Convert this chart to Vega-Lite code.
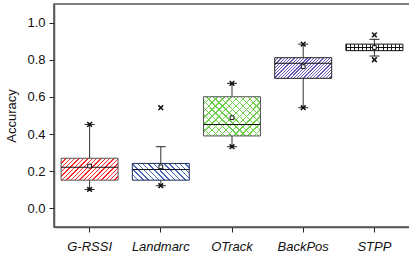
{
  "$schema": "https://vega.github.io/schema/vega-lite/v6.json",
  "width": 356,
  "height": 223,
  "autosize": {"type": "none"},
  "padding": {"left": 54, "top": 4, "right": 0, "bottom": 34},
  "config": {
    "font": "Liberation Sans",
    "view": {"stroke": "#555", "strokeWidth": 1.5},
    "axis": {"grid": false, "domainColor": "#555", "domainWidth": 1.5, "tickColor": "#222", "labelColor": "#111", "labelFont": "Liberation Sans", "titleFont": "Liberation Sans"}
  },
  "datasets": {
    "box": [
      {"method": "G-RSSI", "q1": 0.152, "median": 0.221, "q3": 0.27, "mean": 0.228, "lo": 0.102, "hi": 0.452},
      {"method": "Landmarc", "q1": 0.152, "median": 0.21, "q3": 0.242, "mean": 0.224, "lo": 0.122, "hi": 0.332},
      {"method": "OTrack", "q1": 0.39, "median": 0.452, "q3": 0.601, "mean": 0.488, "lo": 0.332, "hi": 0.673},
      {"method": "BackPos", "q1": 0.7, "median": 0.781, "q3": 0.811, "mean": 0.763, "lo": 0.542, "hi": 0.884},
      {"method": "STPP", "q1": 0.849, "median": 0.866, "q3": 0.884, "mean": 0.866, "lo": 0.82, "hi": 0.91}
    ],
    "ext": [
      {"method": "G-RSSI", "value": 0.102}, {"method": "G-RSSI", "value": 0.452},
      {"method": "Landmarc", "value": 0.122}, {"method": "Landmarc", "value": 0.542},
      {"method": "OTrack", "value": 0.332}, {"method": "OTrack", "value": 0.673},
      {"method": "BackPos", "value": 0.542}, {"method": "BackPos", "value": 0.884},
      {"method": "STPP", "value": 0.8}, {"method": "STPP", "value": 0.934}
    ]
  },
  "encoding": {
    "x": {
      "field": "method", "type": "nominal",
      "sort": ["G-RSSI", "Landmarc", "OTrack", "BackPos", "STPP"],
      "scale": {"paddingInner": 0, "paddingOuter": 0},
      "axis": {"title": null, "labelAngle": 0, "labelFontStyle": "italic", "labelFontSize": 13, "tickSize": 5, "labelPadding": 8}
    }
  },
  "layer": [
    {
      "data": {"name": "box"},
      "mark": {"type": "rule", "color": "#333", "strokeWidth": 1},
      "encoding": {
        "y": {"field": "lo", "type": "quantitative", "title": "Accuracy",
          "scale": {"domain": [-0.1, 1.1], "nice": false, "zero": false},
          "axis": {"values": [0, 0.1, 0.2, 0.3, 0.4, 0.5, 0.6, 0.7, 0.8, 0.9, 1.0],
            "labelExpr": "round(datum.value*10)%2==1 ? '' : format(datum.value,'.1f')",
            "tickSize": {"condition": {"test": "round(datum.value*10)%2==1", "value": 3}, "value": 5},
            "labelFontSize": 13, "labelPadding": 4, "titleFontSize": 13, "titleFontWeight": "normal", "titleColor": "#111", "titlePadding": 8}},
        "y2": {"field": "hi"}
      }
    },
    {
      "data": {"name": "box"},
      "transform": [{"filter": "datum.method == 'G-RSSI'"}],
      "mark": {"type": "bar", "width": {"band": 0.8}, "stroke": "#555", "strokeWidth": 1,
        "fill": {"gradient": "linear", "x1": 0, "y1": 0, "x2": 1.206, "y2": 0.463, "stops": [
          {"offset": 0, "color": "#ff2a2a"}, {"offset": 0.0178, "color": "#ff2a2a"}, {"offset": 0.0178, "color": "#ffffff"}, {"offset": 0.0556, "color": "#ffffff"},
          {"offset": 0.0556, "color": "#ff2a2a"}, {"offset": 0.0733, "color": "#ff2a2a"}, {"offset": 0.0733, "color": "#ffffff"}, {"offset": 0.1111, "color": "#ffffff"},
          {"offset": 0.1111, "color": "#ff2a2a"}, {"offset": 0.1289, "color": "#ff2a2a"}, {"offset": 0.1289, "color": "#ffffff"}, {"offset": 0.1667, "color": "#ffffff"},
          {"offset": 0.1667, "color": "#ff2a2a"}, {"offset": 0.1844, "color": "#ff2a2a"}, {"offset": 0.1844, "color": "#ffffff"}, {"offset": 0.2222, "color": "#ffffff"},
          {"offset": 0.2222, "color": "#ff2a2a"}, {"offset": 0.24, "color": "#ff2a2a"}, {"offset": 0.24, "color": "#ffffff"}, {"offset": 0.2778, "color": "#ffffff"},
          {"offset": 0.2778, "color": "#ff2a2a"}, {"offset": 0.2956, "color": "#ff2a2a"}, {"offset": 0.2956, "color": "#ffffff"}, {"offset": 0.3333, "color": "#ffffff"},
          {"offset": 0.3333, "color": "#ff2a2a"}, {"offset": 0.3511, "color": "#ff2a2a"}, {"offset": 0.3511, "color": "#ffffff"}, {"offset": 0.3889, "color": "#ffffff"},
          {"offset": 0.3889, "color": "#ff2a2a"}, {"offset": 0.4067, "color": "#ff2a2a"}, {"offset": 0.4067, "color": "#ffffff"}, {"offset": 0.4444, "color": "#ffffff"},
          {"offset": 0.4444, "color": "#ff2a2a"}, {"offset": 0.4622, "color": "#ff2a2a"}, {"offset": 0.4622, "color": "#ffffff"}, {"offset": 0.5, "color": "#ffffff"},
          {"offset": 0.5, "color": "#ff2a2a"}, {"offset": 0.5178, "color": "#ff2a2a"}, {"offset": 0.5178, "color": "#ffffff"}, {"offset": 0.5556, "color": "#ffffff"},
          {"offset": 0.5556, "color": "#ff2a2a"}, {"offset": 0.5733, "color": "#ff2a2a"}, {"offset": 0.5733, "color": "#ffffff"}, {"offset": 0.6111, "color": "#ffffff"},
          {"offset": 0.6111, "color": "#ff2a2a"}, {"offset": 0.6289, "color": "#ff2a2a"}, {"offset": 0.6289, "color": "#ffffff"}, {"offset": 0.6667, "color": "#ffffff"},
          {"offset": 0.6667, "color": "#ff2a2a"}, {"offset": 0.6844, "color": "#ff2a2a"}, {"offset": 0.6844, "color": "#ffffff"}, {"offset": 0.7222, "color": "#ffffff"},
          {"offset": 0.7222, "color": "#ff2a2a"}, {"offset": 0.74, "color": "#ff2a2a"}, {"offset": 0.74, "color": "#ffffff"}, {"offset": 0.7778, "color": "#ffffff"},
          {"offset": 0.7778, "color": "#ff2a2a"}, {"offset": 0.7956, "color": "#ff2a2a"}, {"offset": 0.7956, "color": "#ffffff"}, {"offset": 0.8333, "color": "#ffffff"},
          {"offset": 0.8333, "color": "#ff2a2a"}, {"offset": 0.8511, "color": "#ff2a2a"}, {"offset": 0.8511, "color": "#ffffff"}, {"offset": 0.8889, "color": "#ffffff"},
          {"offset": 0.8889, "color": "#ff2a2a"}, {"offset": 0.9067, "color": "#ff2a2a"}, {"offset": 0.9067, "color": "#ffffff"}, {"offset": 0.9444, "color": "#ffffff"},
          {"offset": 0.9444, "color": "#ff2a2a"}, {"offset": 0.9622, "color": "#ff2a2a"}, {"offset": 0.9622, "color": "#ffffff"}, {"offset": 1, "color": "#ffffff"}
        ]}},
      "encoding": {
        "y": {"field": "q1", "type": "quantitative", "title": "Accuracy"},
        "y2": {"field": "q3"}
      }
    },
    {
      "data": {"name": "box"},
      "transform": [{"filter": "datum.method == 'Landmarc'"}],
      "mark": {"type": "bar", "width": {"band": 0.8}, "stroke": "#1f2d5c", "strokeWidth": 1,
        "fill": {"gradient": "linear", "x1": 0, "y1": 1, "x2": 1.191, "y2": 0.651, "stops": [
          {"offset": 0, "color": "#4a68c0"}, {"offset": 0.02, "color": "#4a68c0"}, {"offset": 0.02, "color": "#ffffff"}, {"offset": 0.0714, "color": "#ffffff"},
          {"offset": 0.0714, "color": "#4a68c0"}, {"offset": 0.0914, "color": "#4a68c0"}, {"offset": 0.0914, "color": "#ffffff"}, {"offset": 0.1429, "color": "#ffffff"},
          {"offset": 0.1429, "color": "#4a68c0"}, {"offset": 0.1629, "color": "#4a68c0"}, {"offset": 0.1629, "color": "#ffffff"}, {"offset": 0.2143, "color": "#ffffff"},
          {"offset": 0.2143, "color": "#4a68c0"}, {"offset": 0.2343, "color": "#4a68c0"}, {"offset": 0.2343, "color": "#ffffff"}, {"offset": 0.2857, "color": "#ffffff"},
          {"offset": 0.2857, "color": "#4a68c0"}, {"offset": 0.3057, "color": "#4a68c0"}, {"offset": 0.3057, "color": "#ffffff"}, {"offset": 0.3571, "color": "#ffffff"},
          {"offset": 0.3571, "color": "#4a68c0"}, {"offset": 0.3771, "color": "#4a68c0"}, {"offset": 0.3771, "color": "#ffffff"}, {"offset": 0.4286, "color": "#ffffff"},
          {"offset": 0.4286, "color": "#4a68c0"}, {"offset": 0.4486, "color": "#4a68c0"}, {"offset": 0.4486, "color": "#ffffff"}, {"offset": 0.5, "color": "#ffffff"},
          {"offset": 0.5, "color": "#4a68c0"}, {"offset": 0.52, "color": "#4a68c0"}, {"offset": 0.52, "color": "#ffffff"}, {"offset": 0.5714, "color": "#ffffff"},
          {"offset": 0.5714, "color": "#4a68c0"}, {"offset": 0.5914, "color": "#4a68c0"}, {"offset": 0.5914, "color": "#ffffff"}, {"offset": 0.6429, "color": "#ffffff"},
          {"offset": 0.6429, "color": "#4a68c0"}, {"offset": 0.6629, "color": "#4a68c0"}, {"offset": 0.6629, "color": "#ffffff"}, {"offset": 0.7143, "color": "#ffffff"},
          {"offset": 0.7143, "color": "#4a68c0"}, {"offset": 0.7343, "color": "#4a68c0"}, {"offset": 0.7343, "color": "#ffffff"}, {"offset": 0.7857, "color": "#ffffff"},
          {"offset": 0.7857, "color": "#4a68c0"}, {"offset": 0.8057, "color": "#4a68c0"}, {"offset": 0.8057, "color": "#ffffff"}, {"offset": 0.8571, "color": "#ffffff"},
          {"offset": 0.8571, "color": "#4a68c0"}, {"offset": 0.8771, "color": "#4a68c0"}, {"offset": 0.8771, "color": "#ffffff"}, {"offset": 0.9286, "color": "#ffffff"},
          {"offset": 0.9286, "color": "#4a68c0"}, {"offset": 0.9486, "color": "#4a68c0"}, {"offset": 0.9486, "color": "#ffffff"}, {"offset": 1, "color": "#ffffff"}
        ]}},
      "encoding": {
        "y": {"field": "q1", "type": "quantitative", "title": "Accuracy"},
        "y2": {"field": "q3"}
      }
    },
    {
      "data": {"name": "box"},
      "transform": [{"filter": "datum.method == 'OTrack'"}],
      "mark": {"type": "bar", "width": {"band": 0.8}, "strokeWidth": 0,
        "fill": {"gradient": "linear", "x1": 0, "y1": 0, "x2": 1.147, "y2": 0.785, "stops": [
          {"offset": 0, "color": "#6fcf4f"}, {"offset": 0.0143, "color": "#6fcf4f"}, {"offset": 0.0143, "color": "#ffffff"}, {"offset": 0.0714, "color": "#ffffff"},
          {"offset": 0.0714, "color": "#6fcf4f"}, {"offset": 0.0857, "color": "#6fcf4f"}, {"offset": 0.0857, "color": "#ffffff"}, {"offset": 0.1429, "color": "#ffffff"},
          {"offset": 0.1429, "color": "#6fcf4f"}, {"offset": 0.1572, "color": "#6fcf4f"}, {"offset": 0.1572, "color": "#ffffff"}, {"offset": 0.2143, "color": "#ffffff"},
          {"offset": 0.2143, "color": "#6fcf4f"}, {"offset": 0.2286, "color": "#6fcf4f"}, {"offset": 0.2286, "color": "#ffffff"}, {"offset": 0.2857, "color": "#ffffff"},
          {"offset": 0.2857, "color": "#6fcf4f"}, {"offset": 0.3, "color": "#6fcf4f"}, {"offset": 0.3, "color": "#ffffff"}, {"offset": 0.3571, "color": "#ffffff"},
          {"offset": 0.3571, "color": "#6fcf4f"}, {"offset": 0.3714, "color": "#6fcf4f"}, {"offset": 0.3714, "color": "#ffffff"}, {"offset": 0.4286, "color": "#ffffff"},
          {"offset": 0.4286, "color": "#6fcf4f"}, {"offset": 0.4429, "color": "#6fcf4f"}, {"offset": 0.4429, "color": "#ffffff"}, {"offset": 0.5, "color": "#ffffff"},
          {"offset": 0.5, "color": "#6fcf4f"}, {"offset": 0.5143, "color": "#6fcf4f"}, {"offset": 0.5143, "color": "#ffffff"}, {"offset": 0.5714, "color": "#ffffff"},
          {"offset": 0.5714, "color": "#6fcf4f"}, {"offset": 0.5857, "color": "#6fcf4f"}, {"offset": 0.5857, "color": "#ffffff"}, {"offset": 0.6429, "color": "#ffffff"},
          {"offset": 0.6429, "color": "#6fcf4f"}, {"offset": 0.6572, "color": "#6fcf4f"}, {"offset": 0.6572, "color": "#ffffff"}, {"offset": 0.7143, "color": "#ffffff"},
          {"offset": 0.7143, "color": "#6fcf4f"}, {"offset": 0.7286, "color": "#6fcf4f"}, {"offset": 0.7286, "color": "#ffffff"}, {"offset": 0.7857, "color": "#ffffff"},
          {"offset": 0.7857, "color": "#6fcf4f"}, {"offset": 0.8, "color": "#6fcf4f"}, {"offset": 0.8, "color": "#ffffff"}, {"offset": 0.8571, "color": "#ffffff"},
          {"offset": 0.8571, "color": "#6fcf4f"}, {"offset": 0.8714, "color": "#6fcf4f"}, {"offset": 0.8714, "color": "#ffffff"}, {"offset": 0.9286, "color": "#ffffff"},
          {"offset": 0.9286, "color": "#6fcf4f"}, {"offset": 0.9429, "color": "#6fcf4f"}, {"offset": 0.9429, "color": "#ffffff"}, {"offset": 1, "color": "#ffffff"}
        ]}},
      "encoding": {
        "y": {"field": "q1", "type": "quantitative", "title": "Accuracy"},
        "y2": {"field": "q3"}
      }
    },
    {
      "data": {"name": "box"},
      "transform": [{"filter": "datum.method == 'OTrack'"}],
      "mark": {"type": "bar", "width": {"band": 0.8}, "stroke": "#555", "strokeWidth": 1,
        "fill": {"gradient": "linear", "x1": 0, "y1": 1, "x2": 1.147, "y2": 0.215, "stops": [
          {"offset": 0, "color": "#6fcf4f"}, {"offset": 0.0143, "color": "#6fcf4f"}, {"offset": 0.0143, "color": "rgba(255,255,255,0)"}, {"offset": 0.0714, "color": "rgba(255,255,255,0)"},
          {"offset": 0.0714, "color": "#6fcf4f"}, {"offset": 0.0857, "color": "#6fcf4f"}, {"offset": 0.0857, "color": "rgba(255,255,255,0)"}, {"offset": 0.1429, "color": "rgba(255,255,255,0)"},
          {"offset": 0.1429, "color": "#6fcf4f"}, {"offset": 0.1572, "color": "#6fcf4f"}, {"offset": 0.1572, "color": "rgba(255,255,255,0)"}, {"offset": 0.2143, "color": "rgba(255,255,255,0)"},
          {"offset": 0.2143, "color": "#6fcf4f"}, {"offset": 0.2286, "color": "#6fcf4f"}, {"offset": 0.2286, "color": "rgba(255,255,255,0)"}, {"offset": 0.2857, "color": "rgba(255,255,255,0)"},
          {"offset": 0.2857, "color": "#6fcf4f"}, {"offset": 0.3, "color": "#6fcf4f"}, {"offset": 0.3, "color": "rgba(255,255,255,0)"}, {"offset": 0.3571, "color": "rgba(255,255,255,0)"},
          {"offset": 0.3571, "color": "#6fcf4f"}, {"offset": 0.3714, "color": "#6fcf4f"}, {"offset": 0.3714, "color": "rgba(255,255,255,0)"}, {"offset": 0.4286, "color": "rgba(255,255,255,0)"},
          {"offset": 0.4286, "color": "#6fcf4f"}, {"offset": 0.4429, "color": "#6fcf4f"}, {"offset": 0.4429, "color": "rgba(255,255,255,0)"}, {"offset": 0.5, "color": "rgba(255,255,255,0)"},
          {"offset": 0.5, "color": "#6fcf4f"}, {"offset": 0.5143, "color": "#6fcf4f"}, {"offset": 0.5143, "color": "rgba(255,255,255,0)"}, {"offset": 0.5714, "color": "rgba(255,255,255,0)"},
          {"offset": 0.5714, "color": "#6fcf4f"}, {"offset": 0.5857, "color": "#6fcf4f"}, {"offset": 0.5857, "color": "rgba(255,255,255,0)"}, {"offset": 0.6429, "color": "rgba(255,255,255,0)"},
          {"offset": 0.6429, "color": "#6fcf4f"}, {"offset": 0.6572, "color": "#6fcf4f"}, {"offset": 0.6572, "color": "rgba(255,255,255,0)"}, {"offset": 0.7143, "color": "rgba(255,255,255,0)"},
          {"offset": 0.7143, "color": "#6fcf4f"}, {"offset": 0.7286, "color": "#6fcf4f"}, {"offset": 0.7286, "color": "rgba(255,255,255,0)"}, {"offset": 0.7857, "color": "rgba(255,255,255,0)"},
          {"offset": 0.7857, "color": "#6fcf4f"}, {"offset": 0.8, "color": "#6fcf4f"}, {"offset": 0.8, "color": "rgba(255,255,255,0)"}, {"offset": 0.8571, "color": "rgba(255,255,255,0)"},
          {"offset": 0.8571, "color": "#6fcf4f"}, {"offset": 0.8714, "color": "#6fcf4f"}, {"offset": 0.8714, "color": "rgba(255,255,255,0)"}, {"offset": 0.9286, "color": "rgba(255,255,255,0)"},
          {"offset": 0.9286, "color": "#6fcf4f"}, {"offset": 0.9429, "color": "#6fcf4f"}, {"offset": 0.9429, "color": "rgba(255,255,255,0)"}, {"offset": 1, "color": "rgba(255,255,255,0)"}
        ]}},
      "encoding": {
        "y": {"field": "q1", "type": "quantitative", "title": "Accuracy"},
        "y2": {"field": "q3"}
      }
    },
    {
      "data": {"name": "box"},
      "transform": [{"filter": "datum.method == 'BackPos'"}],
      "mark": {"type": "bar", "width": {"band": 0.8}, "stroke": "#222", "strokeWidth": 1,
        "fill": {"gradient": "linear", "x1": 0, "y1": 0, "x2": 1.204, "y2": 0.435, "stops": [
          {"offset": 0, "color": "#6a5ab8"}, {"offset": 0.0167, "color": "#6a5ab8"}, {"offset": 0.0167, "color": "#ffffff"}, {"offset": 0.0417, "color": "#ffffff"},
          {"offset": 0.0417, "color": "#6a5ab8"}, {"offset": 0.0584, "color": "#6a5ab8"}, {"offset": 0.0584, "color": "#ffffff"}, {"offset": 0.0833, "color": "#ffffff"},
          {"offset": 0.0833, "color": "#6a5ab8"}, {"offset": 0.1, "color": "#6a5ab8"}, {"offset": 0.1, "color": "#ffffff"}, {"offset": 0.125, "color": "#ffffff"},
          {"offset": 0.125, "color": "#6a5ab8"}, {"offset": 0.1417, "color": "#6a5ab8"}, {"offset": 0.1417, "color": "#ffffff"}, {"offset": 0.1667, "color": "#ffffff"},
          {"offset": 0.1667, "color": "#6a5ab8"}, {"offset": 0.1834, "color": "#6a5ab8"}, {"offset": 0.1834, "color": "#ffffff"}, {"offset": 0.2083, "color": "#ffffff"},
          {"offset": 0.2083, "color": "#6a5ab8"}, {"offset": 0.225, "color": "#6a5ab8"}, {"offset": 0.225, "color": "#ffffff"}, {"offset": 0.25, "color": "#ffffff"},
          {"offset": 0.25, "color": "#6a5ab8"}, {"offset": 0.2667, "color": "#6a5ab8"}, {"offset": 0.2667, "color": "#ffffff"}, {"offset": 0.2917, "color": "#ffffff"},
          {"offset": 0.2917, "color": "#6a5ab8"}, {"offset": 0.3084, "color": "#6a5ab8"}, {"offset": 0.3084, "color": "#ffffff"}, {"offset": 0.3333, "color": "#ffffff"},
          {"offset": 0.3333, "color": "#6a5ab8"}, {"offset": 0.35, "color": "#6a5ab8"}, {"offset": 0.35, "color": "#ffffff"}, {"offset": 0.375, "color": "#ffffff"},
          {"offset": 0.375, "color": "#6a5ab8"}, {"offset": 0.3917, "color": "#6a5ab8"}, {"offset": 0.3917, "color": "#ffffff"}, {"offset": 0.4167, "color": "#ffffff"},
          {"offset": 0.4167, "color": "#6a5ab8"}, {"offset": 0.4334, "color": "#6a5ab8"}, {"offset": 0.4334, "color": "#ffffff"}, {"offset": 0.4583, "color": "#ffffff"},
          {"offset": 0.4583, "color": "#6a5ab8"}, {"offset": 0.475, "color": "#6a5ab8"}, {"offset": 0.475, "color": "#ffffff"}, {"offset": 0.5, "color": "#ffffff"},
          {"offset": 0.5, "color": "#6a5ab8"}, {"offset": 0.5167, "color": "#6a5ab8"}, {"offset": 0.5167, "color": "#ffffff"}, {"offset": 0.5417, "color": "#ffffff"},
          {"offset": 0.5417, "color": "#6a5ab8"}, {"offset": 0.5584, "color": "#6a5ab8"}, {"offset": 0.5584, "color": "#ffffff"}, {"offset": 0.5833, "color": "#ffffff"},
          {"offset": 0.5833, "color": "#6a5ab8"}, {"offset": 0.6, "color": "#6a5ab8"}, {"offset": 0.6, "color": "#ffffff"}, {"offset": 0.625, "color": "#ffffff"},
          {"offset": 0.625, "color": "#6a5ab8"}, {"offset": 0.6417, "color": "#6a5ab8"}, {"offset": 0.6417, "color": "#ffffff"}, {"offset": 0.6667, "color": "#ffffff"},
          {"offset": 0.6667, "color": "#6a5ab8"}, {"offset": 0.6834, "color": "#6a5ab8"}, {"offset": 0.6834, "color": "#ffffff"}, {"offset": 0.7083, "color": "#ffffff"},
          {"offset": 0.7083, "color": "#6a5ab8"}, {"offset": 0.725, "color": "#6a5ab8"}, {"offset": 0.725, "color": "#ffffff"}, {"offset": 0.75, "color": "#ffffff"},
          {"offset": 0.75, "color": "#6a5ab8"}, {"offset": 0.7667, "color": "#6a5ab8"}, {"offset": 0.7667, "color": "#ffffff"}, {"offset": 0.7917, "color": "#ffffff"},
          {"offset": 0.7917, "color": "#6a5ab8"}, {"offset": 0.8084, "color": "#6a5ab8"}, {"offset": 0.8084, "color": "#ffffff"}, {"offset": 0.8333, "color": "#ffffff"},
          {"offset": 0.8333, "color": "#6a5ab8"}, {"offset": 0.85, "color": "#6a5ab8"}, {"offset": 0.85, "color": "#ffffff"}, {"offset": 0.875, "color": "#ffffff"},
          {"offset": 0.875, "color": "#6a5ab8"}, {"offset": 0.8917, "color": "#6a5ab8"}, {"offset": 0.8917, "color": "#ffffff"}, {"offset": 0.9167, "color": "#ffffff"},
          {"offset": 0.9167, "color": "#6a5ab8"}, {"offset": 0.9334, "color": "#6a5ab8"}, {"offset": 0.9334, "color": "#ffffff"}, {"offset": 0.9583, "color": "#ffffff"},
          {"offset": 0.9583, "color": "#6a5ab8"}, {"offset": 0.975, "color": "#6a5ab8"}, {"offset": 0.975, "color": "#ffffff"}, {"offset": 1, "color": "#ffffff"}
        ]}},
      "encoding": {
        "y": {"field": "q1", "type": "quantitative", "title": "Accuracy"},
        "y2": {"field": "q3"}
      }
    },
    {
      "data": {"name": "box"},
      "transform": [{"filter": "datum.method == 'STPP'"}],
      "mark": {"type": "bar", "width": {"band": 0.8}, "stroke": "#111", "strokeWidth": 1,
        "fill": {"gradient": "linear", "x1": 0, "y1": 0, "x2": 1, "y2": 0, "stops": [
          {"offset": 0, "color": "#222222"}, {"offset": 0.018, "color": "#222222"}, {"offset": 0.018, "color": "#ffffff"}, {"offset": 0.0714, "color": "#ffffff"},
          {"offset": 0.0714, "color": "#222222"}, {"offset": 0.0894, "color": "#222222"}, {"offset": 0.0894, "color": "#ffffff"}, {"offset": 0.1429, "color": "#ffffff"},
          {"offset": 0.1429, "color": "#222222"}, {"offset": 0.1609, "color": "#222222"}, {"offset": 0.1609, "color": "#ffffff"}, {"offset": 0.2143, "color": "#ffffff"},
          {"offset": 0.2143, "color": "#222222"}, {"offset": 0.2323, "color": "#222222"}, {"offset": 0.2323, "color": "#ffffff"}, {"offset": 0.2857, "color": "#ffffff"},
          {"offset": 0.2857, "color": "#222222"}, {"offset": 0.3037, "color": "#222222"}, {"offset": 0.3037, "color": "#ffffff"}, {"offset": 0.3571, "color": "#ffffff"},
          {"offset": 0.3571, "color": "#222222"}, {"offset": 0.3751, "color": "#222222"}, {"offset": 0.3751, "color": "#ffffff"}, {"offset": 0.4286, "color": "#ffffff"},
          {"offset": 0.4286, "color": "#222222"}, {"offset": 0.4466, "color": "#222222"}, {"offset": 0.4466, "color": "#ffffff"}, {"offset": 0.5, "color": "#ffffff"},
          {"offset": 0.5, "color": "#222222"}, {"offset": 0.518, "color": "#222222"}, {"offset": 0.518, "color": "#ffffff"}, {"offset": 0.5714, "color": "#ffffff"},
          {"offset": 0.5714, "color": "#222222"}, {"offset": 0.5894, "color": "#222222"}, {"offset": 0.5894, "color": "#ffffff"}, {"offset": 0.6429, "color": "#ffffff"},
          {"offset": 0.6429, "color": "#222222"}, {"offset": 0.6609, "color": "#222222"}, {"offset": 0.6609, "color": "#ffffff"}, {"offset": 0.7143, "color": "#ffffff"},
          {"offset": 0.7143, "color": "#222222"}, {"offset": 0.7323, "color": "#222222"}, {"offset": 0.7323, "color": "#ffffff"}, {"offset": 0.7857, "color": "#ffffff"},
          {"offset": 0.7857, "color": "#222222"}, {"offset": 0.8037, "color": "#222222"}, {"offset": 0.8037, "color": "#ffffff"}, {"offset": 0.8571, "color": "#ffffff"},
          {"offset": 0.8571, "color": "#222222"}, {"offset": 0.8751, "color": "#222222"}, {"offset": 0.8751, "color": "#ffffff"}, {"offset": 0.9286, "color": "#ffffff"},
          {"offset": 0.9286, "color": "#222222"}, {"offset": 0.9466, "color": "#222222"}, {"offset": 0.9466, "color": "#ffffff"}, {"offset": 1, "color": "#ffffff"}
        ]}},
      "encoding": {
        "y": {"field": "q1", "type": "quantitative", "title": "Accuracy"},
        "y2": {"field": "q3"}
      }
    },
    {
      "data": {"name": "box"},
      "mark": {"type": "tick", "size": 57, "thickness": 1, "color": "#111", "opacity": 1},
      "encoding": {"y": {"field": "median", "type": "quantitative", "title": "Accuracy"}}
    },
    {
      "data": {"name": "box"},
      "mark": {"type": "tick", "size": 10, "thickness": 1, "color": "#222", "opacity": 1},
      "encoding": {"y": {"field": "lo", "type": "quantitative", "title": "Accuracy"}}
    },
    {
      "data": {"name": "box"},
      "mark": {"type": "tick", "size": 10, "thickness": 1, "color": "#222", "opacity": 1},
      "encoding": {"y": {"field": "hi", "type": "quantitative", "title": "Accuracy"}}
    },
    {
      "data": {"name": "box"},
      "mark": {"type": "point", "shape": "square", "size": 14, "filled": true, "fill": "#ffffff", "stroke": "#111", "strokeWidth": 1, "opacity": 1},
      "encoding": {"y": {"field": "mean", "type": "quantitative", "title": "Accuracy"}}
    },
    {
      "data": {"name": "ext"},
      "mark": {"type": "point", "shape": "M-1,-1L1,1M-1,1L1,-1", "size": 22, "filled": false, "stroke": "#111", "strokeWidth": 1.5, "opacity": 1},
      "encoding": {"y": {"field": "value", "type": "quantitative", "title": "Accuracy"}}
    }
  ]
}
